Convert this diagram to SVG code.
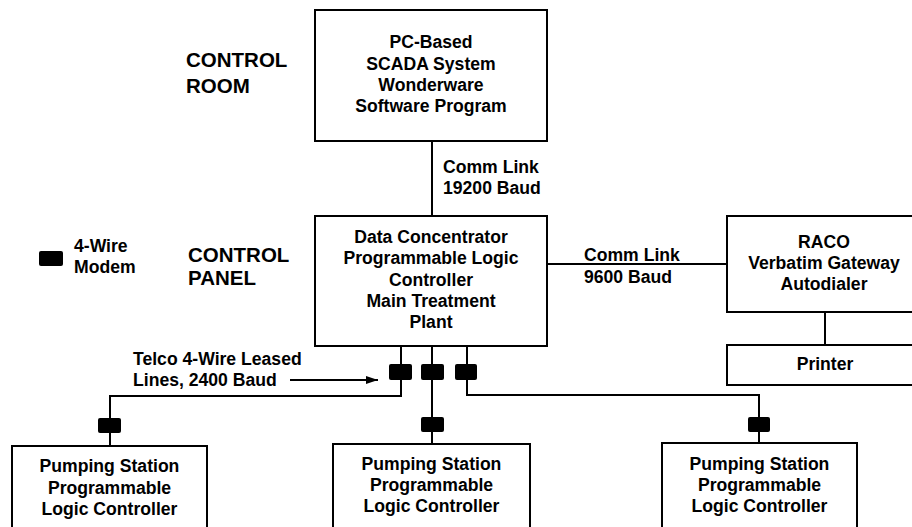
<svg xmlns="http://www.w3.org/2000/svg" width="912" height="527" viewBox="0 0 912 527">
<style>
text{font-family:"Liberation Sans",Arial,sans-serif;font-weight:bold;font-size:17.6px;fill:#000}
.c{text-anchor:middle}
.big{font-size:20.5px}
.box{fill:#fff;stroke:#000;stroke-width:2}
.ln{fill:none;stroke:#000;stroke-width:2}
.modem{fill:#000;stroke:none}
</style>
<defs>
<marker id="arr" viewBox="0 0 12 8" refX="12" refY="4" markerWidth="12" markerHeight="8" markerUnits="userSpaceOnUse" orient="auto">
<path d="M0,0 L12,4 L0,8 Z" fill="#000"/>
</marker>
</defs>
<rect width="912" height="527" fill="#fff"/>
<g id="labels">
<text class="big" x="186" y="67">CONTROL</text>
<text class="big" x="186" y="93">ROOM</text>
<text class="big" x="188" y="262">CONTROL</text>
<text class="big" x="188" y="285">PANEL</text>
</g>
<g id="legend">
<rect class="modem" x="39" y="251" width="24" height="15" rx="2"/>
<text x="74" y="252">4-Wire</text>
<text x="74" y="273">Modem</text>
</g>
<g id="connectors">
<path class="ln" d="M432,141 V216"/>
<path class="ln" d="M547,264 H727"/>
<path class="ln" d="M825,312 V345"/>
<path class="ln" d="M401,346 V396 H110 V446"/>
<path class="ln" d="M432,346 V444"/>
<path class="ln" d="M467,346 V395 H759 V443"/>
<path class="ln" d="M290,380 H378" marker-end="url(#arr)"/>
</g>
<g id="modems">
<rect class="modem" x="389" y="364" width="23" height="16" rx="2"/>
<rect class="modem" x="421" y="364" width="23" height="16" rx="2"/>
<rect class="modem" x="455" y="364" width="22" height="16" rx="2"/>
<rect class="modem" x="98" y="418" width="23" height="15" rx="2"/>
<rect class="modem" x="421" y="417" width="23" height="15" rx="2"/>
<rect class="modem" x="748" y="417" width="22" height="15" rx="2"/>
</g>
<g id="link-labels">
<text x="443" y="173">Comm Link</text>
<text x="443" y="194">19200 Baud</text>
<text x="584" y="261">Comm Link</text>
<text x="584" y="283">9600 Baud</text>
<text x="133" y="365">Telco 4-Wire Leased</text>
<text x="133" y="386">Lines, 2400 Baud</text>
</g>
<g id="scada">
<rect class="box" x="315" y="10" width="232" height="131"/>
<text class="c" x="431" y="48">PC-Based</text>
<text class="c" x="431" y="70">SCADA System</text>
<text class="c" x="431" y="91">Wonderware</text>
<text class="c" x="431" y="112">Software Program</text>
</g>
<g id="concentrator">
<rect class="box" x="315" y="216" width="232" height="130"/>
<text class="c" x="431" y="243">Data Concentrator</text>
<text class="c" x="431" y="264">Programmable Logic</text>
<text class="c" x="431" y="286">Controller</text>
<text class="c" x="431" y="307">Main Treatment</text>
<text class="c" x="431" y="328">Plant</text>
</g>
<g id="raco">
<rect class="box" x="727" y="216" width="200" height="96"/>
<text class="c" x="824" y="248">RACO</text>
<text class="c" x="824" y="269">Verbatim Gateway</text>
<text class="c" x="824" y="290">Autodialer</text>
</g>
<g id="printer">
<rect class="box" x="727" y="345" width="200" height="40"/>
<text class="c" x="825" y="370">Printer</text>
</g>
<g id="plc1">
<rect class="box" x="12" y="446" width="195" height="100"/>
<text class="c" x="109.5" y="472">Pumping Station</text>
<text class="c" x="109.5" y="494">Programmable</text>
<text class="c" x="109.5" y="515">Logic Controller</text>
</g>
<g id="plc2">
<rect class="box" x="333" y="444" width="197" height="100"/>
<text class="c" x="431.5" y="470">Pumping Station</text>
<text class="c" x="431.5" y="491">Programmable</text>
<text class="c" x="431.5" y="512">Logic Controller</text>
</g>
<g id="plc3">
<rect class="box" x="662" y="443" width="195" height="100"/>
<text class="c" x="759.5" y="470">Pumping Station</text>
<text class="c" x="759.5" y="491">Programmable</text>
<text class="c" x="759.5" y="512">Logic Controller</text>
</g>
</svg>
